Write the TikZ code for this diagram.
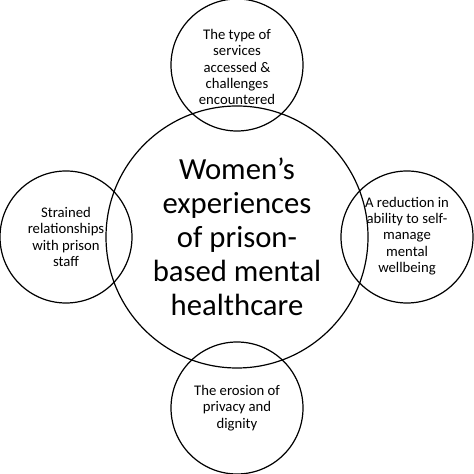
\documentclass[tikz,border=0pt]{standalone}
\usepackage{fontspec}
\setmainfont{Carlito}
\begin{document}
\begin{tikzpicture}[x=1pt,y=1pt,
  ring/.style={circle,draw=black,line width=1.2pt,inner sep=0pt},
  smallring/.style={ring,minimum size=132pt},
  smalltext/.style={font=\fontsize{14.7pt}{16.3pt}\selectfont,align=center},
  bigtext/.style={font=\fontsize{30.7pt}{34pt}\selectfont,align=center}]
\useasboundingbox (0,0) rectangle (474,474);
\node[ring,minimum size=262pt] (c) at (237,237) {};
\node[smallring] (t) at (237,409) {};
\node[smallring] (l) at (66,237) {};
\node[smallring] (r) at (407,237) {};
\node[smallring] (b) at (237,66) {};
\node[bigtext] (ct) at (c.center) {Women\symbol{"27}s\\experiences\\of prison-\\based mental\\healthcare};
\node[smalltext] (tt) at ([yshift=-2pt]t.center) {The type of\\services\\accessed \&\\challenges\\encountered};
\node[smalltext] (lt) at (l.center) {Strained\\relationships\\with prison\\staff};
\node[smalltext] (rt) at ([yshift=1pt]r.center) {A reduction in\\ability to self-\\manage\\mental\\wellbeing};
\node[smalltext] (bt) at (b.center) {The erosion of\\privacy and\\dignity};
\end{tikzpicture}
\end{document}
